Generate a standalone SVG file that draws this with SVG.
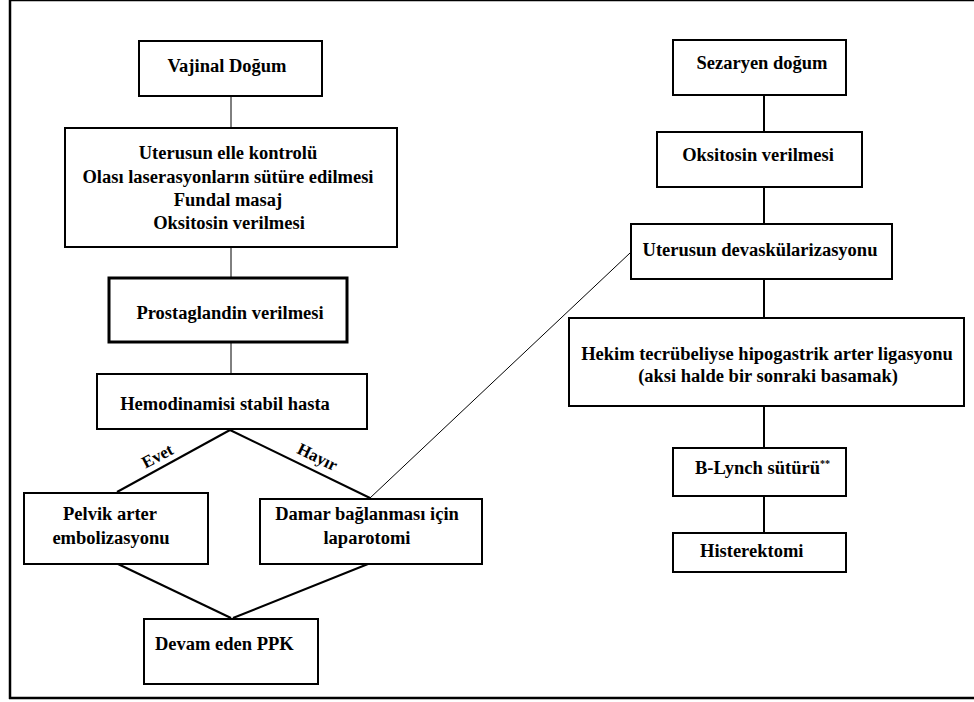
<svg xmlns="http://www.w3.org/2000/svg" width="974" height="702" viewBox="0 0 974 702">
<style>
  .box { fill: #fff; stroke: #000; stroke-width: 2; }
  .thick { stroke-width: 3; }
  text { font-family: 'Liberation Serif', 'Times New Roman', Times, 'DejaVu Serif', serif; font-size: 18.5px; font-weight: 700; fill: #000; text-anchor: middle; }
  .s { text-anchor: start; }
  .lbl { font-size: 17px; }
  .c1 { stroke: #000; stroke-width: 1; fill: none; }
  .c2 { stroke: #000; stroke-width: 2; fill: none; }
</style>
<rect x="0" y="0" width="974" height="702" fill="#fff"/>
<g id="frame" fill="none" stroke="#000">
  <line x1="10" y1="0.5" x2="974" y2="0.5" stroke-width="1.5"/>
  <line x1="10" y1="0" x2="10" y2="699" stroke-width="2.5"/>
  <line x1="9" y1="698" x2="974" y2="698" stroke-width="2.5"/>
</g>
<g id="connectors">
  <line class="c1" x1="231" y1="96" x2="231" y2="128"/>
  <line class="c1" x1="231" y1="247" x2="231" y2="278"/>
  <line class="c1" x1="231" y1="342" x2="231" y2="374"/>
  <line class="c2" x1="230" y1="430" x2="117" y2="492"/>
  <line class="c2" x1="230" y1="430" x2="370" y2="498"/>
  <line class="c2" x1="118" y1="564" x2="231" y2="618"/>
  <line class="c2" x1="368" y1="564" x2="233" y2="618"/>
  <line class="c1" x1="370" y1="498" x2="630" y2="253"/>
  <line class="c2" x1="764" y1="95" x2="764" y2="132"/>
  <line class="c2" x1="764" y1="187" x2="764" y2="224"/>
  <line class="c2" x1="764" y1="279" x2="764" y2="318"/>
  <line class="c2" x1="764" y1="406" x2="764" y2="448"/>
  <line class="c2" x1="764" y1="496" x2="764" y2="533"/>
  <text class="lbl" transform="translate(160 461) rotate(-28)">Evet</text>
  <text class="lbl" transform="translate(315 462) rotate(26)">Hayır</text>
</g>
<g id="vajinal">
  <rect class="box" x="139" y="41" width="183" height="55"/>
  <text x="227" y="72">Vajinal Doğum</text>
</g>
<g id="ilk-adimlar">
  <rect class="box" x="65" y="128" width="332" height="119"/>
  <text x="228" y="159">Uterusun elle kontrolü</text>
  <text x="228" y="183">Olası laserasyonların sütüre edilmesi</text>
  <text x="228" y="206">Fundal masaj</text>
  <text x="229" y="229">Oksitosin verilmesi</text>
</g>
<g id="prostaglandin">
  <rect class="box thick" x="109" y="278" width="238" height="64"/>
  <text x="230" y="319">Prostaglandin verilmesi</text>
</g>
<g id="hemodinami">
  <rect class="box" x="97" y="374" width="270" height="55"/>
  <text x="225" y="410">Hemodinamisi stabil hasta</text>
</g>
<g id="pelvik">
  <rect class="box" x="24" y="493" width="184" height="71"/>
  <text x="110" y="520">Pelvik arter</text>
  <text x="111" y="544">embolizasyonu</text>
</g>
<g id="laparotomi">
  <rect class="box" x="260" y="499" width="222" height="65"/>
  <text x="367" y="520">Damar bağlanması için</text>
  <text x="367" y="544">laparotomi</text>
</g>
<g id="devam">
  <rect class="box" x="144" y="619" width="174" height="65"/>
  <text class="s" x="155" y="650">Devam eden PPK</text>
</g>
<g id="sezaryen">
  <rect class="box" x="673" y="40" width="173" height="55"/>
  <text x="762" y="69">Sezaryen doğum</text>
</g>
<g id="oksitosin">
  <rect class="box" x="657" y="132" width="205" height="55" stroke-width="2.5"/>
  <text x="758" y="161">Oksitosin verilmesi</text>
</g>
<g id="devaskularizasyon">
  <rect class="box" x="631" y="224" width="261" height="55"/>
  <text x="760" y="256">Uterusun devaskülarizasyonu</text>
</g>
<g id="hipogastrik">
  <rect class="box" x="569" y="318" width="395" height="88"/>
  <text x="767" y="360">Hekim tecrübeliyse hipogastrik arter ligasyonu</text>
  <text x="768" y="382">(aksi halde bir sonraki basamak)</text>
</g>
<g id="blynch">
  <rect class="box" x="673" y="448" width="173" height="48"/>
  <text class="s" x="695" y="474">B-Lynch sütürü<tspan font-size="10" dy="-7">**</tspan></text>
</g>
<g id="histerektomi">
  <rect class="box" x="673" y="533" width="173" height="39"/>
  <text class="s" x="700" y="557">Histerektomi</text>
</g>
</svg>
